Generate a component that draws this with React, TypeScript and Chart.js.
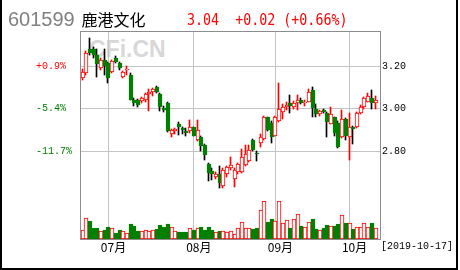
import React, { useEffect, useRef } from 'react';
import { Chart, registerables } from 'chart.js';

Chart.register(...registerables);

// ---- data ----
const dates = [
  '2019-06-20','2019-06-21','2019-06-24','2019-06-25','2019-06-26','2019-06-27','2019-06-28',
  '2019-07-01','2019-07-02','2019-07-03','2019-07-04','2019-07-05','2019-07-08','2019-07-09','2019-07-10','2019-07-11','2019-07-12',
  '2019-07-15','2019-07-16','2019-07-17','2019-07-18','2019-07-19','2019-07-22','2019-07-23','2019-07-24','2019-07-25','2019-07-26',
  '2019-07-29','2019-07-30','2019-07-31',
  '2019-08-01','2019-08-02','2019-08-05','2019-08-06','2019-08-07','2019-08-08','2019-08-09','2019-08-12','2019-08-13','2019-08-14',
  '2019-08-15','2019-08-16','2019-08-19','2019-08-20','2019-08-21','2019-08-22','2019-08-23','2019-08-26','2019-08-27','2019-08-28',
  '2019-08-29','2019-08-30',
  '2019-09-02','2019-09-03','2019-09-04','2019-09-05','2019-09-06','2019-09-09','2019-09-10','2019-09-11','2019-09-12','2019-09-16',
  '2019-09-17','2019-09-18','2019-09-19','2019-09-20','2019-09-23','2019-09-24','2019-09-25','2019-09-26','2019-09-27','2019-09-30',
  '2019-10-08','2019-10-09','2019-10-10','2019-10-11','2019-10-14','2019-10-15','2019-10-16','2019-10-17',
];

const open = [
  3.145,3.165,3.28,3.28,3.25,3.19,3.23,3.215,3.17,3.24,
  3.215,3.15,3.18,3.16,3.04,3.04,3.035,3.042,3.07,3.077,
  3.10,3.07,3.003,3.024,2.882,2.893,2.928,2.91,2.893,2.892,
  2.911,2.85,2.868,2.83,2.74,2.705,2.68,2.69,2.634,2.694,
  2.72,2.67,2.70,2.70,2.736,2.755,2.85,2.793,2.84,2.855,
  2.958,2.934,2.873,2.94,2.986,3.005,3.024,3.005,3.024,3.042,
  3.024,3.033,3.089,3.0,2.972,2.995,2.981,2.929,2.958,2.934,
  2.864,2.953,2.868,2.915,2.915,2.981,3.009,3.033,3.052,3.024,
];
const high = [
  3.185,3.27,3.33,3.29,3.28,3.24,3.28,3.22,3.23,3.245,
  3.22,3.175,3.20,3.165,3.05,3.045,3.055,3.075,3.09,3.095,
  3.105,3.075,3.01,3.03,2.905,2.91,2.935,2.915,2.91,2.945,
  2.915,2.945,2.87,2.835,2.745,2.72,2.70,2.73,2.72,2.73,
  2.77,2.72,2.745,2.81,2.83,2.83,2.855,2.80,2.882,2.965,
  2.96,2.94,2.965,3.122,3.02,3.03,3.065,3.035,3.065,3.05,
  3.04,3.09,3.10,3.02,2.995,3.0,2.985,3.009,2.96,2.94,
  2.995,2.955,2.981,2.92,2.985,3.015,3.055,3.075,3.089,3.061,
];
const low = [
  3.135,3.16,3.25,3.24,3.15,3.18,3.16,3.12,3.165,3.215,
  3.18,3.145,3.16,3.04,3.01,3.005,3.025,3.03,2.99,3.06,
  3.075,2.988,2.985,2.89,2.865,2.88,2.875,2.88,2.87,2.885,
  2.87,2.848,2.80,2.76,2.658,2.665,2.67,2.628,2.625,2.68,
  2.71,2.63,2.69,2.695,2.73,2.75,2.798,2.755,2.82,2.85,
  2.895,2.84,2.87,2.935,2.95,2.995,2.981,3.0,2.995,3.02,
  3.01,3.03,2.962,2.962,2.965,2.98,2.864,2.925,2.873,2.812,
  2.86,2.854,2.76,2.831,2.91,2.975,3.0,3.03,3.0,3.0,
];
const close = [
  3.17,3.26,3.26,3.25,3.21,3.23,3.20,3.145,3.225,3.22,
  3.19,3.17,3.182,3.04,3.027,3.015,3.05,3.07,3.08,3.09,
  3.08,3.008,2.992,2.893,2.90,2.906,2.912,2.90,2.886,2.911,
  2.873,2.90,2.823,2.78,2.695,2.694,2.694,2.65,2.713,2.725,
  2.732,2.713,2.74,2.77,2.784,2.807,2.807,2.788,2.864,2.962,
  2.90,2.864,2.962,3.00,3.005,3.019,3.014,3.028,3.042,3.028,
  3.033,3.08,3.003,2.976,2.99,2.986,2.939,2.972,2.887,2.821,
  2.953,2.873,2.915,2.906,2.981,3.009,3.052,3.061,3.024,3.042,
];
const volume = [
  90,210,185,115,115,80,90,120,110,65,
  90,85,60,150,130,80,80,90,80,90,
  100,140,125,150,125,80,70,70,70,110,
  90,110,120,90,125,90,75,80,80,70,
  80,50,110,170,110,110,100,110,290,380,
  170,200,180,380,165,190,110,200,250,130,
  120,170,200,100,90,110,140,130,130,150,
  240,160,160,100,125,125,160,125,160,115,
];

const priceTicks = [2.8, 3.0, 3.2];
const pctLabels = ['-11.7%', '-5.4%', '+0.9%'];

const stockCode = '601599';
const stockName = '鹿港文化';
const quoteText = '3.04  +0.02 (+0.66%)';
const dateText = '[2019-10-17]';
const watermark = 'CFi.CN';

const RED = '#ff0000';
const GREEN = '#008000';
const GRID = '#c4c4c4';

const PRICE_MIN = 2.386;
const PRICE_MAX = 3.365;
const VOL_MAX = 2080;
const X_MIN = -0.674;
const X_MAX = 80.19;

// snaps the bars the library laid out onto whole pixels, for crisp 1px lines
const snapPlugin = {
  id: 'snap',
  beforeDatasetsDraw(chart: any) {
    chart.data.datasets.forEach((ds: any, di: number) => {
      const meta = chart.getDatasetMeta(di);
      const isWick = ds.label === 'wick';
      meta.data.forEach((el: any) => {
        el.x = isWick ? Math.round(el.x) - 0.5 : Math.round(el.x);
        const b = Math.round(el.base);
        let y = Math.round(el.y);
        if (y === b) y = b - 1;
        el.y = y;
        el.base = b;
      });
    });
  },
};

const framePlugin = {
  id: 'frame',
  afterDraw(chart: any) {
    const { ctx, chartArea } = chart;
    const { left, top, right, bottom } = chartArea;
    ctx.save();
    ctx.strokeStyle = '#8c8c8c';
    ctx.lineWidth = 1;
    ctx.strokeRect(left + 0.5, top + 0.5, right - left, bottom - top);
    ctx.fillStyle = '#000000';
    ctx.fillRect(0, 0, 2, 270);
    ctx.fillRect(456, 0, 2, 270);
    ctx.fillRect(0, 268, 458, 2);
    ctx.restore();
  },
};

export default function App() {
  const ref = useRef<HTMLCanvasElement>(null);

  useEffect(() => {
    document.body.style.margin = '0';
    const idx = dates.map((_, i) => i);
    const up = idx.map((i) => close[i] >= open[i]);
    const monthStarts = idx.filter((i) => i > 0 && dates[i].slice(5, 7) !== dates[i - 1].slice(5, 7));
    const tickFont = { family: '"Liberation Mono", monospace', size: 10 };

    const chart = new Chart(ref.current as HTMLCanvasElement, {
      type: 'bar',
      data: {
        datasets: [
          {
            label: 'body',
            data: idx.map((i) => ({ x: i, y: [open[i], close[i]] })) as any,
            yAxisID: 'y',
            backgroundColor: up.map((u) => (u ? '#ffffff' : GREEN)),
            borderColor: up.map((u) => (u ? RED : GREEN)),
            borderWidth: 1,
            borderSkipped: false,
            barThickness: 4,
            grouped: false,
            minBarLength: 1,
          } as any,
          {
            label: 'wick',
            data: idx.map((i) => ({ x: i, y: [low[i], high[i]] })) as any,
            yAxisID: 'y',
            backgroundColor: up.map((u) => (u ? RED : '#000000')),
            borderWidth: 0,
            barThickness: 1,
            grouped: false,
          } as any,
          {
            label: 'volume',
            data: idx.map((i) => ({ x: i, y: volume[i] })) as any,
            yAxisID: 'yv',
            backgroundColor: up.map((u) => (u ? '#ffffff' : GREEN)),
            borderColor: up.map((u) => (u ? RED : GREEN)),
            borderWidth: 1,
            borderSkipped: false,
            barThickness: 4,
            grouped: false,
          } as any,
        ],
      },
      options: {
        animation: false,
        responsive: false,
        events: [],
        layout: { padding: { left: 36, top: 31, right: 0, bottom: 0 } },
        plugins: { legend: { display: false }, tooltip: { enabled: false } },
        scales: {
          x: {
            type: 'linear',
            position: 'bottom',
            offset: false,
            min: X_MIN,
            max: X_MAX,
            grid: { color: GRID, drawTicks: false, offset: false },
            border: { display: false },
            afterBuildTicks: (a: any) => {
              a.ticks = monthStarts.map((v) => ({ value: v }));
            },
            afterFit: (a: any) => {
              a.height = 31;
            },
            ticks: {
              autoSkip: false,
              maxRotation: 0,
              labelOffset: 5,
              padding: 1,
              color: '#000',
              font: { family: '"Noto Sans CJK SC"', size: 12 },
              callback: (v: any) => dates[Math.round(Number(v))].slice(5, 7) + '月',
            },
          },
          y: {
            type: 'linear',
            position: 'right',
            min: PRICE_MIN,
            max: PRICE_MAX,
            grid: { color: GRID, drawTicks: false },
            border: { display: false },
            afterBuildTicks: (a: any) => {
              a.ticks = priceTicks.map((v) => ({ value: v }));
            },
            afterFit: (a: any) => {
              a.width = 80;
            },
            ticks: {
              padding: 2,
              color: '#000',
              font: tickFont,
              callback: (v: any) => Number(v).toFixed(2),
            },
          },
          yl: {
            type: 'linear',
            position: 'left',
            min: PRICE_MIN,
            max: PRICE_MAX,
            grid: { display: false, drawTicks: false },
            border: { display: false },
            afterBuildTicks: (a: any) => {
              a.ticks = priceTicks.map((v) => ({ value: v }));
            },
            afterFit: (a: any) => {
              a.width = 44;
            },
            ticks: {
              crossAlign: 'far',
              font: tickFont,
              color: (c: any) => (pctLabels[c.index] || '').startsWith('+') ? RED : GREEN,
              callback: (_v: any, i: number) => pctLabels[i],
            },
          },
          yv: {
            type: 'linear',
            display: false,
            min: 0,
            max: VOL_MAX,
          },
        },
      } as any,
      plugins: [snapPlugin, framePlugin],
    });
    return () => chart.destroy();
  }, []);

  return (
    <div style={{ position: 'relative', width: 460, height: 270, background: '#fff', overflow: 'hidden' }}>
      <div
        style={{
          position: 'absolute', left: 89, top: 37.5, font: 'bold 23px "Liberation Sans"', lineHeight: '23px',
          color: '#d8d8d8', whiteSpace: 'pre',
        }}
      >
        {watermark}
      </div>
      <canvas ref={ref} width={460} height={270} style={{ position: 'absolute', left: 0, top: 0 }} />
      <div
        style={{
          position: 'absolute', left: 8, top: 9, font: '20px "Liberation Sans"', lineHeight: '20px',
          color: '#808080', whiteSpace: 'pre',
        }}
      >
        {stockCode}
      </div>
      <div
        style={{
          position: 'absolute', left: 81.5, top: 10.5, font: '16px "Noto Sans CJK SC"', lineHeight: '16px',
          color: '#000', whiteSpace: 'pre',
        }}
      >
        {stockName}
      </div>
      <div
        style={{
          position: 'absolute', left: 187, top: 11.5, font: '16px "DejaVu Sans Mono"', lineHeight: '16px',
          color: RED, whiteSpace: 'pre', transform: 'scaleX(0.833)', transformOrigin: 'left top',
        }}
      >
        {quoteText}
      </div>
      <div
        style={{
          position: 'absolute', left: 381, top: 241.8, font: '10px "Liberation Mono"', lineHeight: '10px',
          color: '#000', whiteSpace: 'pre',
        }}
      >
        {dateText}
      </div>
    </div>
  );
}
